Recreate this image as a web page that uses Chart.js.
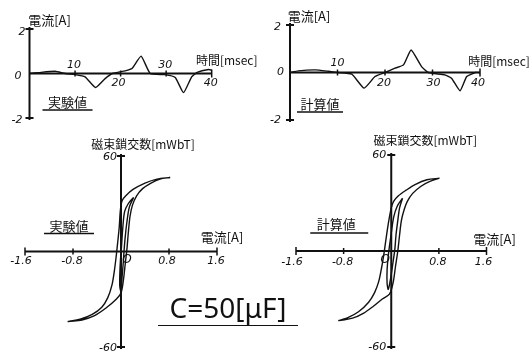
<!DOCTYPE html>
<html>
<head>
<meta charset="utf-8">
<script src="https://cdn.jsdelivr.net/npm/chart.js@4.4.0/dist/chart.umd.min.js"></script>
<style>
body { margin: 0; background: #fff; }
#wrap { position: relative; width: 532px; height: 357px; overflow: hidden; background: #fff; }
#wrap canvas { position: absolute; }
#cap {
  position: absolute; left: 158px; top: 290px; width: 140px; height: 35px;
  font: 28px "Noto Sans", "DejaVu Sans", sans-serif; color: #111;
  text-align: center; line-height: 35px; border-bottom: 1.5px solid #111;
}
</style>
</head>
<body>
<div id="wrap">
  <canvas id="waveExp" width="266" height="135" style="left:0;top:0"></canvas>
  <canvas id="waveCalc" width="266" height="135" style="left:266px;top:0"></canvas>
  <canvas id="loopExp" width="266" height="222" style="left:0;top:135px"></canvas>
  <canvas id="loopCalc" width="266" height="222" style="left:266px;top:135px"></canvas>
  <div id="cap">C=50[μF]</div>
</div>
<script>
// 電流波形 (実験値 / 計算値)
const timeExp = [0, 2, 5.6, 7.8, 10, 12.2, 14.5, 16.6, 18.2, 21, 22.5, 24.5, 26.5, 29.8, 32, 33.8, 35.6, 36.8, 39.3, 40];
const currentExp = [0, 0.04, 0.1, 0, -0.05, -0.15, -0.63, -0.23, 0, 0.12, 0.22, 0.78, 0, -0.05, -0.18, -0.86, -0.15, 0.05, 0.18, 0.15];
const timeCalc = [0, 1.75, 5.3, 8.1, 10, 13, 15.6, 17.9, 20, 22.1, 23.9, 25.5, 27.7, 29.1, 32.6, 34, 35.8, 37.2, 39, 40];
const currentCalc = [0, 0.07, 0.11, 0.05, 0, -0.07, -0.66, -0.17, 0, 0.18, 0.32, 0.95, 0.25, 0, -0.1, -0.24, -0.77, -0.17, 0, 0];

// ヒステリシスループ 実験値 (外側ループ, 小ループ)
const loopExpI = [0.82, 0.6, 0.4, 0.2, 0.08, 0.02, -0.01, -0.03, -0.06, -0.08, -0.11, -0.15, -0.22, -0.32, -0.48, -0.68, -0.88,
  -0.65, -0.45, -0.25, -0.08, 0.0, 0.04, 0.07, 0.1, 0.12, 0.15, 0.19, 0.26, 0.36, 0.5, 0.65, 0.82];
const loopExpFlux = [46.5, 45.5, 43, 39, 35, 32, 26, 15, 4, -3, -12, -21, -29, -35, -39.5, -42.5, -44,
  -43, -40.5, -35.5, -30, -26, -18, -8, 2, 11, 22, 29, 35, 39.5, 43, 45.5, 46.5];
const minorExpI = [0.21, 0.12, 0.06, 0.03, 0.01, -0.01, -0.02, -0.02, 0.0, 0.02, 0.04, 0.05, 0.07, 0.1, 0.14, 0.21];
const minorExpFlux = [34, 30, 25, 15, 4, -6, -15, -22, -25, -15, -6, 0, 9, 19, 28, 34];

// ヒステリシスループ 計算値
const loopCalcI = [0.81, 0.6, 0.4, 0.25, 0.12, 0.04, 0.0, -0.05, -0.09, -0.12, -0.16, -0.21, -0.28, -0.38, -0.55, -0.72, -0.88,
  -0.65, -0.47, -0.3, -0.15, -0.03, 0.03, 0.07, 0.11, 0.14, 0.17, 0.21, 0.27, 0.36, 0.5, 0.65, 0.81];
const loopCalcFlux = [45.5, 44.5, 41.5, 38, 34.5, 31, 27, 17, 7, -1, -10, -19, -26, -32, -38, -41.5, -43.5,
  -42, -39, -34.5, -30, -27, -20, -10, 0, 10, 19, 25, 31, 36, 40.5, 43.5, 45.5];
const minorCalcI = [0.19, 0.1, 0.04, 0.0, -0.03, -0.05, -0.07, -0.07, -0.05, -0.01, 0.03, 0.06, 0.08, 0.11, 0.14, 0.19];
const minorCalcFlux = [33, 28, 21, 11, 3, -3, -12, -20, -24, -17, -7, 1, 10, 19, 27, 33];

// 目盛
const timeTicks = [10, 20, 30, 40];
const waveCurrentTicks = [2, 0, -2];
const loopCurrentTicks = [-1.6, -0.8, 0.8, 1.6];
const fluxTicks = [60, -60];

const cjk = '"Noto Sans CJK JP", sans-serif';
const num = 'italic 11px "DejaVu Sans", sans-serif';

function toPoints(xs, ys) {
  return xs.map((x, i) => ({ x: x, y: ys[i] }));
}

function seg(ctx, x1, y1, x2, y2) {
  ctx.beginPath();
  ctx.moveTo(x1, y1);
  ctx.lineTo(x2, y2);
  ctx.stroke();
}

function text(ctx, str, x, y, font, align) {
  ctx.font = font;
  ctx.textAlign = align || 'center';
  ctx.textBaseline = 'middle';
  ctx.fillText(str, x, y);
}

// 軸と文字を手描き風に描く
const sketchPlugin = {
  id: 'sketch',
  afterDraw(chart, args, opts) {
    const ctx = chart.ctx;
    const sx = chart.scales.x, sy = chart.scales.y;
    const px = v => sx.getPixelForValue(v);
    const py = v => sy.getPixelForValue(v);
    const x0 = px(0), y0 = py(0);
    ctx.save();
    ctx.strokeStyle = '#111';
    ctx.fillStyle = '#111';
    ctx.lineWidth = 2;

    seg(ctx, px(opts.xFrom), y0, px(sx.max), y0);
    seg(ctx, x0, py(sy.max) - 2, x0, py(sy.min) + 2);
    seg(ctx, x0 - 4, py(sy.max), x0 + 4, py(sy.max));
    seg(ctx, x0 - 4, py(sy.min), x0 + 4, py(sy.min));

    ctx.lineWidth = 1.5;
    opts.xTicks.forEach((v, i) => {
      const h = (v === sx.max || v === sx.min) ? 4 : 3;
      seg(ctx, px(v), y0 - h, px(v), y0 + h);
      const lab = opts.xLabels[i];
      text(ctx, String(v), px(v) + lab[0], y0 + lab[1], num);
    });
    opts.yTicks.forEach((v, i) => {
      const lab = opts.yLabels[i];
      text(ctx, String(v), x0 + lab[0], py(v) + lab[1], num, 'right');
    });

    opts.texts.forEach(t => {
      const x = px(t.at[0]) + t.dx, y = py(t.at[1]) + t.dy;
      text(ctx, t.text, x, y, t.font, 'center');
      if (t.ul) {
        ctx.lineWidth = 1.5;
        seg(ctx, x + t.ul[0], y + t.ul[2], x + t.ul[1], y + t.ul[2]);
      }
    });
    ctx.restore();
  }
};

function makeChart(id, datasets, xr, yr, pad, sketch) {
  return new Chart(document.getElementById(id), {
    type: 'scatter',
    data: { datasets: datasets },
    options: {
      responsive: false,
      animation: false,
      events: [],
      layout: { padding: pad },
      scales: {
        x: { type: 'linear', display: false, min: xr[0], max: xr[1] },
        y: { type: 'linear', display: false, min: yr[0], max: yr[1] }
      },
      plugins: { legend: { display: false }, tooltip: { enabled: false }, sketch: sketch }
    },
    plugins: [sketchPlugin]
  });
}

function curve(points, tension) {
  return {
    data: points, showLine: true, pointRadius: 0,
    borderColor: '#111', borderWidth: 1.4, tension: tension, clip: false
  };
}

makeChart('waveExp', [curve(toPoints(timeExp, currentExp), 0.15)], [0, 40], [-2, 2],
  { left: 29.5, right: 54.3, top: 29, bottom: 17 },
  {
    xFrom: 0, xTicks: timeTicks, xLabels: [[-1, -8], [-2, 10], [-1, -8], [-1, 10]],
    yTicks: waveCurrentTicks, yLabels: [[-4, 3], [-8, 2.5], [-7, 2]],
    texts: [
      { text: '電流[A]', at: [0, 2], dx: 20, dy: -9, font: '13px ' + cjk },
      { text: '時間[msec]', at: [40, 0], dx: 15, dy: -13, font: '12px ' + cjk },
      { text: '実験値', at: [0, -2], dx: 38, dy: -16, font: '13px ' + cjk, ul: [-25, 25, 8] }
    ]
  });

makeChart('waveCalc', [curve(toPoints(timeCalc, currentCalc), 0.15)], [0, 40], [-2, 2],
  { left: 24, right: 52, top: 25, bottom: 15 },
  {
    xFrom: 0, xTicks: timeTicks, xLabels: [[0, -9], [-1, 11], [1, 11], [-2, 11]],
    yTicks: waveCurrentTicks, yLabels: [[-9, 2.5], [-6, 0], [-9, 0]],
    texts: [
      { text: '電流[A]', at: [0, 2], dx: 19, dy: -9, font: '13px ' + cjk },
      { text: '時間[msec]', at: [40, 0], dx: 19, dy: -11, font: '12px ' + cjk },
      { text: '計算値', at: [0, -2], dx: 30, dy: -16, font: '13px ' + cjk, ul: [-23, 23, 8] }
    ]
  });

makeChart('loopExp', [
    curve(toPoints(loopExpI, loopExpFlux), 0.3),
    curve(toPoints(minorExpI, minorExpFlux), 0.3)
  ], [-1.6, 1.6], [-60, 60],
  { left: 25, right: 49, top: 21, bottom: 10 },
  {
    xFrom: -1.6, xTicks: loopCurrentTicks, xLabels: [[-4, 10], [-1, 10], [-2, 10], [-1, 10]],
    yTicks: fluxTicks, yLabels: [[-4, 1], [-4, 1]],
    texts: [
      { text: '磁束鎖交数[mWbT]', at: [0, 60], dx: 22, dy: -12, font: '12px ' + cjk },
      { text: '電流[A]', at: [1.6, 0], dx: 5, dy: -14, font: '13px ' + cjk },
      { text: '実験値', at: [0, 0], dx: -52, dy: -25, font: '13px ' + cjk, ul: [-25, 25, 7] },
      { text: 'O', at: [0, 0], dx: 6, dy: 8, font: 'italic 12px "DejaVu Sans", sans-serif' }
    ]
  });

makeChart('loopCalc', [
    curve(toPoints(loopCalcI, loopCalcFlux), 0.3),
    curve(toPoints(minorCalcI, minorCalcFlux), 0.3)
  ], [-1.6, 1.6], [-60, 60],
  { left: 30, right: 45.5, top: 20, bottom: 10 },
  {
    xFrom: -1.6, xTicks: loopCurrentTicks, xLabels: [[-4, 11], [-1, 11], [-1, 11], [-3, 11]],
    yTicks: fluxTicks, yLabels: [[-5, 0], [-5, 0]],
    texts: [
      { text: '磁束鎖交数[mWbT]', at: [0, 60], dx: 34, dy: -15, font: '12px ' + cjk },
      { text: '電流[A]', at: [1.6, 0], dx: 8, dy: -12, font: '13px ' + cjk },
      { text: '計算値', at: [0, 0], dx: -55, dy: -27, font: '13px ' + cjk, ul: [-26, 32, 9] },
      { text: 'O', at: [0, 0], dx: -6, dy: 9, font: 'italic 12px "DejaVu Sans", sans-serif' }
    ]
  });
</script>
</body>
</html>
